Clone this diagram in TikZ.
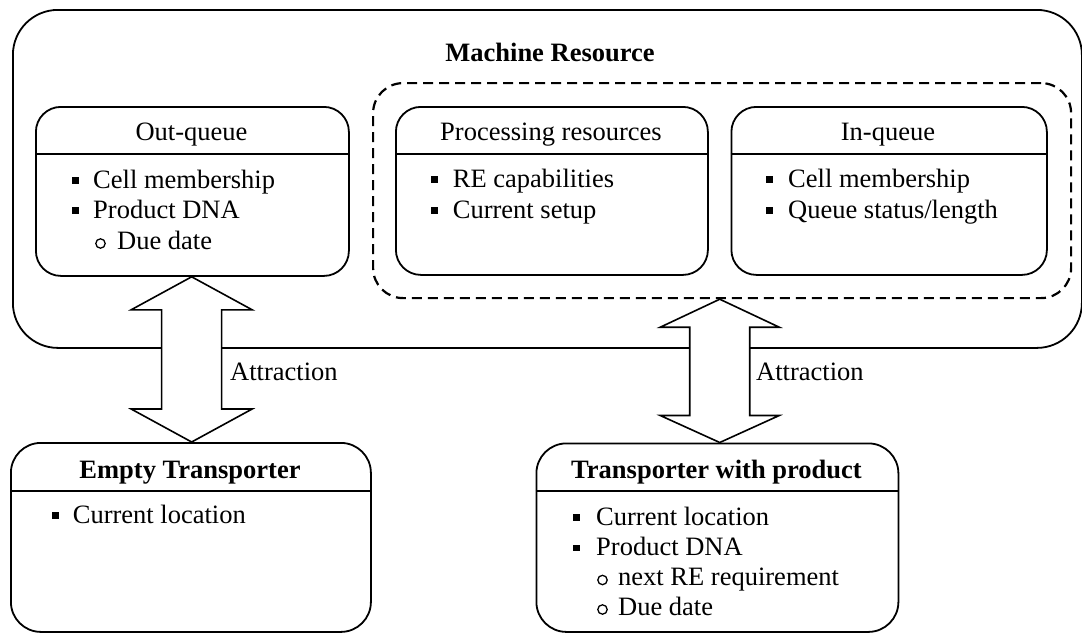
\documentclass[tikz,border=0pt]{standalone}
\usepackage{fontspec}
\setmainfont{Liberation Serif}
\usetikzlibrary{calc}
\begin{document}
\begin{tikzpicture}[x=1pt,y=-1pt,
  every node/.style={font=\fontsize{26.5}{30}\selectfont},
  frame/.style={draw, line width=1.8pt, rounded corners=#1, anchor=north west, inner sep=0pt, fill=none},
  frame/.default=25pt,
  dashframe/.style={frame=#1, dash pattern=on 10pt off 6pt, line width=2.2pt},
  sep/.style={line width=1.3pt},
  item/.style={anchor=base west, inner sep=0pt},
  ttl/.style={anchor=base, inner sep=0pt},
  bigarrow/.style={draw, fill=white, line width=1.6pt, line join=miter},
  sqb/.style={fill=black},
  cb/.style={draw, line width=1.3pt}]
\useasboundingbox (0,0) rectangle (1082,633);

% frames
\node[frame=45pt, minimum width=1069pt, minimum height=338pt] (mr) at (12,9) {};
\node[dashframe=30pt, minimum width=698pt, minimum height=215pt] (dz) at (372,82) {};
\node[frame=25pt, minimum width=313pt, minimum height=169pt] (oq) at (35,106) {};
\node[frame=25pt, minimum width=312pt, minimum height=168pt] (pr) at (395,106) {};
\node[frame=25pt, minimum width=315.5pt, minimum height=168pt] (iq) at (730.5,106) {};
\node[frame=30pt, minimum width=360pt, minimum height=189pt] (et) at (10,442) {};
\node[frame=30pt, minimum width=362pt, minimum height=188.5pt] (tw) at (535.5,442.5) {};

% header separators
\coordinate (htop) at (0,154);
\coordinate (hbot) at (0,491);
\draw[sep] (oq.west |- htop) -- (oq.east |- htop);
\draw[sep] (pr.west |- htop) -- (pr.east |- htop);
\draw[sep] (iq.west |- htop) -- (iq.east |- htop);
\draw[sep] (et.west |- hbot) -- (et.east |- hbot);
\draw[sep] (tw.west |- hbot) -- (tw.east |- hbot);

% double arrows
\draw[bigarrow] let \p1=(oq.south), \p2=(et.north), \n1={(\x1+\x2)/2} in
  (\n1,\y1) -- (\n1+60.5pt,\y1-33pt) -- (\n1+30pt,\y1-33pt) -- (\n1+30pt,\y2+33pt)
  -- (\n1+60.5pt,\y2+33pt) -- (\n1,\y2) -- (\n1-60.5pt,\y2+33pt) -- (\n1-30pt,\y2+33pt)
  -- (\n1-30pt,\y1-33pt) -- (\n1-60.5pt,\y1-33pt) -- cycle;
\draw[bigarrow] let \p1=(dz.south), \p2=(tw.north), \n1={(\x1+\x2)/2} in
  (\n1,\y1) -- (\n1+59.5pt,\y1-28pt) -- (\n1+30pt,\y1-28pt) -- (\n1+30pt,\y2+27pt)
  -- (\n1+59.5pt,\y2+27pt) -- (\n1,\y2) -- (\n1-59.5pt,\y2+27pt) -- (\n1-30pt,\y2+27pt)
  -- (\n1-30pt,\y1-28pt) -- (\n1-59.5pt,\y1-28pt) -- cycle;
\node[item] (at1) at (230,380) {Attraction};
\node[item] (at2) at (756,380) {Attraction};

% titles
\node[ttl] (mrt) at (550,61) {\bfseries Machine Resource};
\node[ttl] (oqt) at (191.5,140) {Out-queue};
\node[ttl] (prt) at (551,140) {Processing resources};
\node[ttl] (iqt) at (888,140) {In-queue};
\node[ttl] (ett) at (190,478) {\bfseries Empty Transporter};
\node[ttl] (twt) at (716.5,478) {\bfseries Transporter with product};

% Out-queue items
\fill[sqb] (72,177) rectangle (79,183.5);
\node[item] (oq1) at (93,188) {Cell membership};
\fill[sqb] (72,207) rectangle (79,213.5);
\node[item] (oq2) at (93,218) {Product DNA};
\draw[cb] (100.5,243.5) circle (4.7pt);
\node[item] (oq3) at (117,249) {Due date};

% Processing items
\fill[sqb] (431,176) rectangle (438,182.5);
\node[item] (pr1) at (452.7,187) {RE capabilities};
\fill[sqb] (431,207) rectangle (438,213.5);
\node[item] (pr2) at (452.7,218) {Current setup};

% In-queue items
\fill[sqb] (765.5,176) rectangle (772.5,182.5);
\node[item] (iq1) at (788,187) {Cell membership};
\fill[sqb] (765.5,207) rectangle (772.5,213.5);
\node[item] (iq2) at (788,218) {Queue status/length};

% Empty transporter items
\fill[sqb] (52,512) rectangle (59,518.5);
\node[item] (et1) at (72.7,523) {Current location};

% Transporter with product items
\fill[sqb] (573,514) rectangle (580,520.5);
\node[item] (tw1) at (596,525) {Current location};
\fill[sqb] (573,544.5) rectangle (580,551);
\node[item] (tw2) at (596,555.5) {Product DNA};
\draw[cb] (602.5,580) circle (4.7pt);
\node[item] (tw3) at (618,585.5) {next RE requirement};
\draw[cb] (602.5,609.5) circle (4.7pt);
\node[item] (tw4) at (618,615) {Due date};
\end{tikzpicture}
\end{document}
